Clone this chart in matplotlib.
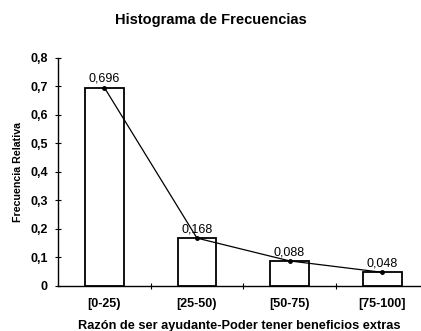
import matplotlib
matplotlib.use("Agg")
import matplotlib.pyplot as plt
from matplotlib.ticker import FixedLocator, FuncFormatter

categories = ["[0-25)", "[25-50)", "[50-75)", "[75-100]"]
freq_rel = [0.696, 0.168, 0.088, 0.048]
value_labels = ["0,696", "0,168", "0,088", "0,048"]
y_ticks = [0, 0.1, 0.2, 0.3, 0.4, 0.5, 0.6, 0.7, 0.8]

plt.rcParams["font.family"] = ["Liberation Sans", "DejaVu Sans"]

fig = plt.figure(figsize=(4.21, 3.31), dpi=100)
ax = fig.add_axes([0.138, 0.136, 0.862, 0.689])

x = list(range(len(categories)))
ax.bar(x, freq_rel, width=0.42, facecolor="white", edgecolor="black", linewidth=1.3, zorder=2)
ax.plot(x, freq_rel, color="black", linewidth=0.9, marker="o", markersize=2.5, zorder=3)

for xi, v, lab in zip(x, freq_rel, value_labels):
    ax.text(xi, v + 0.01, lab, ha="center", va="bottom", fontsize=9, zorder=4)

ax.set_xlim(-0.5, 3.42)
ax.set_ylim(0, 0.8)
ax.set_yticks(y_ticks)
ax.yaxis.set_major_formatter(FuncFormatter(lambda v, p: "0" if v == 0 else f"{v:.1f}".replace(".", ",")))
ax.set_xticks(x)
ax.set_xticklabels(categories)
ax.xaxis.set_minor_locator(FixedLocator([0.5, 1.5, 2.5]))
ax.tick_params(axis="x", which="major", length=0, pad=9, labelsize=9)
ax.tick_params(axis="x", which="minor", direction="inout", length=5, width=0.8)
ax.tick_params(axis="y", direction="inout", length=5, width=0.8, labelsize=9, pad=5)
for t in ax.get_xticklabels() + ax.get_yticklabels():
    t.set_fontweight("bold")

for s in ["top", "right"]:
    ax.spines[s].set_visible(False)
for s in ["left", "bottom"]:
    ax.spines[s].set_linewidth(1.0)

ax.set_ylabel("Frecuencia Relativa", fontsize=7.7, fontweight="bold", labelpad=5)
ax.set_xlabel("Razón de ser ayudante-Poder tener beneficios extras", fontsize=9.2, fontweight="bold", labelpad=7)
fig.suptitle("Histograma de Frecuencias", x=0.5, y=0.96, fontsize=10.5, fontweight="bold")

fig.savefig("out.png", dpi=100)
